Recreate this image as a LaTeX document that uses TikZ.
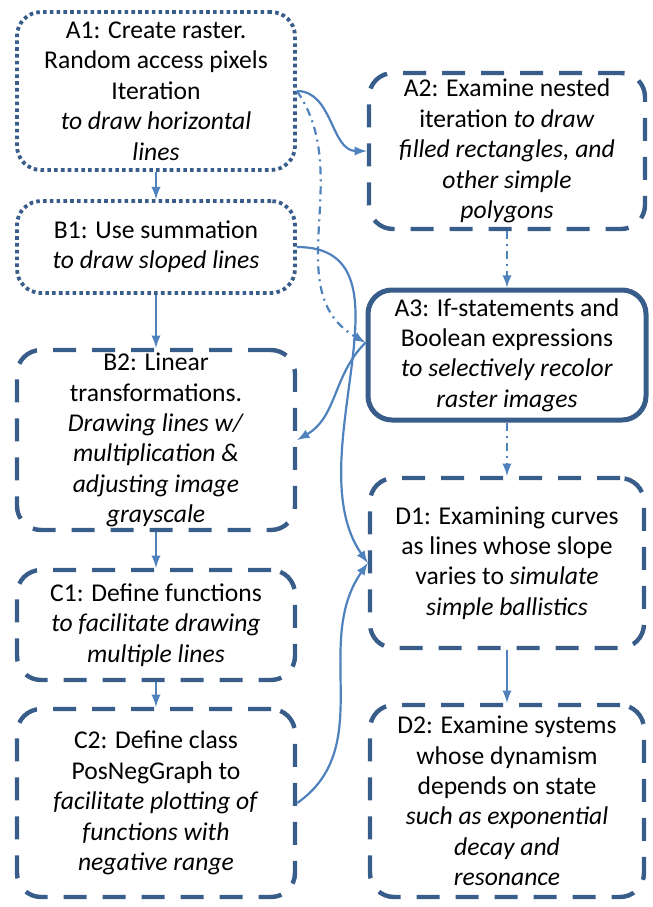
\documentclass[tikz,border=0pt]{standalone}
\usepackage{fontspec}
\setmainfont{Carlito}
\usepackage{tikz}

\begin{document}
\begin{tikzpicture}[x=0.5pt, y=-0.5pt,
    box/.style={rounded corners=12pt, draw=boxcol, align=center, inner sep=1pt,
        font=\fontsize{12.8}{15.2}\selectfont},
    dotbox/.style={box, line width=1.9pt, dash pattern=on 1.8pt off 1.6pt},
    dashbox/.style={box, line width=2.2pt, dash pattern=on 11.5pt off 8pt},
    solidbox/.style={box, line width=2.5pt},
    link/.style={-latex, draw=linkcol, line width=1.1pt},
    dotlink/.style={link, dash pattern=on 4pt off 2.5pt on 1pt off 2.5pt}]
            \xdefinecolor{boxcol}{RGB}{56, 93, 138}
            \xdefinecolor{linkcol}{RGB}{79, 129, 189}
            \useasboundingbox (0, 0) rectangle (653, 907);

            % Left column
            \node[dotbox, minimum width=139pt, minimum height=79pt] (A1) at (156, 91)
                {A1: Create raster.\\ Random access pixels\\ Iteration\\ \textit{to draw horizontal}\\ \textit{lines}};
            \node[dotbox, minimum width=139pt, minimum height=46pt] (B1) at (156, 247)
                {B1: Use summation\\ \textit{to draw sloped lines}};
            \node[dashbox, minimum width=139pt, minimum height=90pt] (B2) at (156, 440)
                {B2: Linear\\ transformations.\\ \textit{Drawing lines w/}\\ \textit{multiplication \&}\\ \textit{adjusting image}\\ \textit{grayscale}};
            \node[dashbox, minimum width=139pt, minimum height=55pt] (C1) at (156, 625)
                {C1: Define functions\\ \textit{to facilitate drawing}\\ \textit{multiple lines}};
            \node[dashbox, minimum width=139pt, minimum height=94pt] (C2) at (156, 803)
                {C2: Define class\\ PosNegGraph to\\ \textit{facilitate plotting of}\\ \textit{functions with}\\ \textit{negative range}};

            % Right column
            \node[dashbox, minimum width=138pt, minimum height=78pt] (A2) at (507, 151)
                {A2: Examine nested\\ iteration \textit{to draw}\\ \textit{filled rectangles, and}\\ \textit{other simple}\\ \textit{polygons}};
            \node[solidbox, minimum width=139pt, minimum height=65pt] (A3) at (507, 355)
                {A3: If-statements and\\ Boolean expressions\\ \textit{to selectively recolor}\\ \textit{raster images}};
            \node[dashbox, minimum width=137pt, minimum height=85pt] (D1) at (507, 563)
                {D1: Examining curves\\ as lines whose slope\\ varies to \textit{simulate}\\ \textit{simple ballistics}};
            \node[dashbox, minimum width=137pt, minimum height=96pt] (D2) at (507, 801)
                {D2: Examine systems\\ whose dynamism\\ depends on state\\ \textit{such as exponential}\\ \textit{decay and}\\ \textit{resonance}};

            % Straight links down each column
            \draw[link] (A1) -- (B1);
            \draw[link] (B1) -- (B2);
            \draw[link] (B2) -- (C1);
            \draw[link] (C1) -- (C2);
            \draw[dotlink] (A2) -- (A3);
            \draw[dotlink] (A3) -- (D1);
            \draw[link] (D1) -- (D2);

            % Curved links between the columns
            \draw[link] (A1.east) to[out=0, in=180] (A2.west);
            \draw[dotlink] (A1.east) to[out=-55, in=150] (A3.175);
            \draw[link] (A3.175) to[out=225, in=30] (B2.east);
            \draw[link] (B1.east) to[out=0, in=125] (D1.west);
            \draw[link] (C2.east) to[out=35, in=235] (D1.west);

        \end{tikzpicture}
\end{document}
